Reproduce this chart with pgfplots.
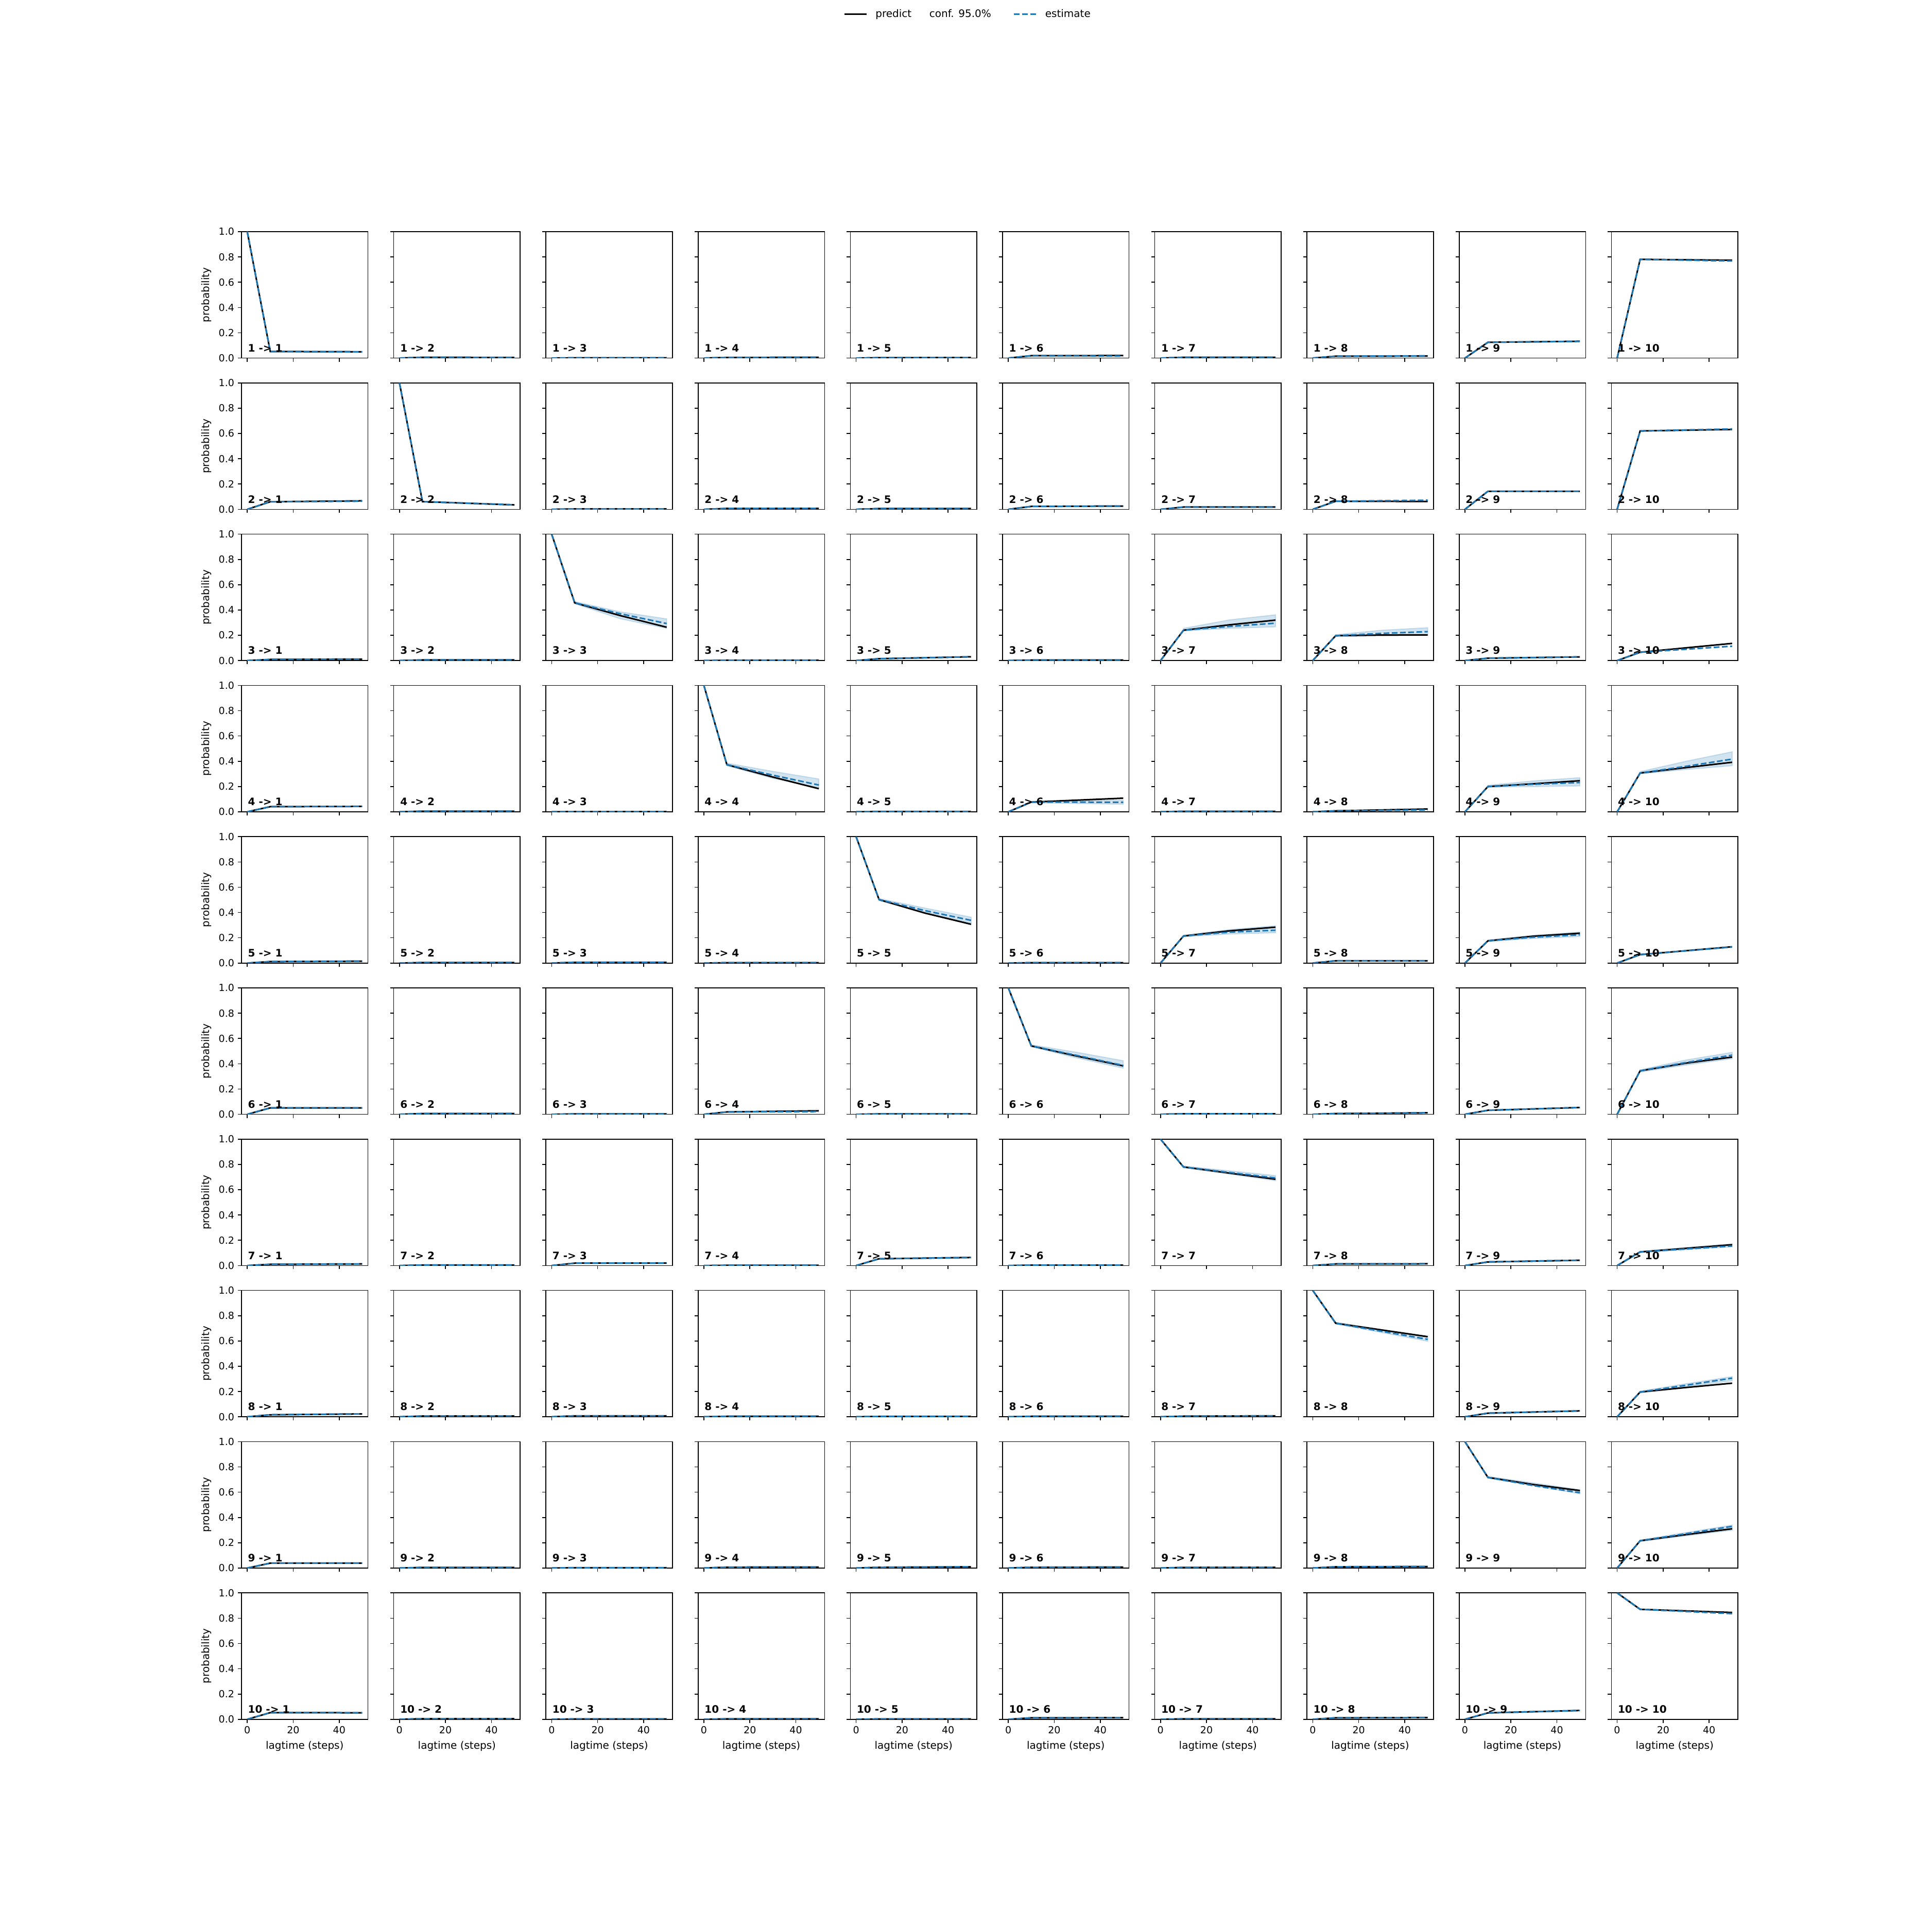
\documentclass[border=0pt]{standalone}
\usepackage{fontspec}
\setmainfont{DejaVu Sans}
\usepackage{pgfplots}
\pgfplotsset{compat=1.18}
\usepgfplotslibrary{groupplots}
\definecolor{c0}{HTML}{1F77B4}

\pgfplotsset{
  predict/.style={black, line width=1.5pt, forget plot},
  estimate/.style={c0, line width=1.5pt, dash pattern=on 5.55pt off 2.4pt, forget plot},
  band/.style={fill=c0, fill opacity=0.2, draw=c0, draw opacity=0.2, line width=1pt, forget plot},
}
\tikzset{lbl/.style={anchor=base west, inner sep=0pt, font=\fontsize{10}{12}\selectfont\bfseries}}

% one panel: label, predict, estimate, optional band
\newcommand{\panel}[4]{%
  \nextgroupplot
  #4
  \addplot[predict] coordinates {#2};
  \addplot[estimate] coordinates {#3};
  \node[lbl] at (rel axis cs:0.05,0.05) {#1};
}
\newcommand{\band}[1]{\addplot[band] coordinates {#1};}
% off-diagonal panel where both curves nearly agree
\newcommand{\fp}[3]{\panel{#1}{(0,0)(10,#2)(50,#3)}{(0,0)(10,#2)(50,#3)}{}}

\begin{document}
\begin{tikzpicture}
\begin{groupplot}[
  group style={group size=10 by 10, horizontal sep=25pt, vertical sep=24.1pt,
    xticklabels at=edge bottom, yticklabels at=edge left,
    xlabels at=edge bottom, ylabels at=edge left},
  scale only axis, width=122.8pt, height=122.8pt,
  xmin=-2.5, xmax=52.5, ymin=0, ymax=1,
  xtick={0,20,40}, ytick={0,0.2,0.4,0.6,0.8,1},
  tick pos=left, tick align=outside,
  major tick length=3.5pt,
  every tick/.style={black, line width=0.8pt},
  axis line style={line width=0.8pt},
  /pgf/number format/assume math mode=true,
  ticklabel style={font=\fontsize{9.5}{11}\selectfont},
  yticklabel style={/pgf/number format/.cd, fixed, fixed zerofill, precision=1},
  label style={font=\fontsize{10}{12}\selectfont},
  xlabel={lagtime (steps)}, ylabel={probability},
  legend columns=3,
  legend image code/.code={\draw[#1] (0pt,0pt) -- (21.5pt,0pt);},
  legend style={draw=none, fill=none, font=\fontsize{10}{12}\selectfont,
    nodes={inner sep=0pt},
    at={(rel axis cs:4.735,2.722)}, anchor=west,
    /tikz/column 1/.style={column sep=8pt},
    /tikz/column 2/.style={column sep=17.4pt},
    /tikz/column 3/.style={column sep=0pt},
    /tikz/column 4/.style={column sep=21.5pt},
    /tikz/column 5/.style={column sep=8pt}},
]
% row 1
\panel{1 -> 1}{(0,1)(10,0.052)(50,0.050)}{(0,1)(10,0.052)(50,0.049)}{}
\addlegendimage{black, line width=1.5pt}\addlegendentry{predict}
\addlegendimage{empty legend}\addlegendentry{conf. 95.0\%}
\addlegendimage{c0, line width=1.5pt, dash pattern=on 5.55pt off 2.4pt}\addlegendentry{estimate}
\fp{1 -> 2}{0.006}{0.005}
\fp{1 -> 3}{0.002}{0.002}
\fp{1 -> 4}{0.005}{0.006}
\fp{1 -> 5}{0.003}{0.004}
\panel{1 -> 6}{(0,0)(10,0.019)(50,0.020)}{(0,0)(10,0.019)(50,0.017)}{}
\fp{1 -> 7}{0.006}{0.006}
\panel{1 -> 8}{(0,0)(10,0.015)(50,0.016)}{(0,0)(10,0.015)(50,0.018)}{}
\panel{1 -> 9}{(0,0)(10,0.125)(50,0.133)}{(0,0)(10,0.125)(50,0.132)}{}
\panel{1 -> 10}{(0,0)(10,0.781)(50,0.774)}{(0,0)(10,0.781)(50,0.768)}{}
% row 2
\panel{2 -> 1}{(0,0)(10,0.060)(50,0.067)}{(0,0)(10,0.060)(50,0.064)}{}
\panel{2 -> 2}{(0,1)(10,0.061)(50,0.035)}{(0,1)(10,0.061)(50,0.036)}{}
\fp{2 -> 3}{0.003}{0.003}
\fp{2 -> 4}{0.007}{0.007}
\fp{2 -> 5}{0.006}{0.006}
\fp{2 -> 6}{0.023}{0.026}
\fp{2 -> 7}{0.018}{0.018}
\panel{2 -> 8}{(0,0)(10,0.064)(50,0.062)}{(0,0)(10,0.064)(50,0.072)}{}
\fp{2 -> 9}{0.143}{0.143}
\panel{2 -> 10}{(0,0)(10,0.620)(50,0.632)}{(0,0)(10,0.620)(50,0.636)}{}
% row 3
\fp{3 -> 1}{0.009}{0.012}
\fp{3 -> 2}{0.005}{0.005}
\panel{3 -> 3}{(0,1)(10,0.457)(30,0.355)(50,0.264)}{(0,1)(10,0.457)(30,0.370)(50,0.293)}
  {\band{(10,0.450)(30,0.330)(50,0.255)(50,0.330)(30,0.385)(10,0.467)(10,0.450)}}
\fp{3 -> 4}{0.002}{0.002}
\fp{3 -> 5}{0.015}{0.030}
\fp{3 -> 6}{0.004}{0.004}
\panel{3 -> 7}{(0,0)(10,0.240)(30,0.283)(50,0.320)}{(0,0)(10,0.240)(30,0.270)(50,0.296)}
  {\band{(10,0.235)(30,0.255)(50,0.267)(50,0.362)(30,0.322)(10,0.255)(10,0.235)}}
\panel{3 -> 8}{(0,0)(10,0.197)(30,0.202)(50,0.203)}{(0,0)(10,0.197)(30,0.215)(50,0.229)}
  {\band{(10,0.190)(30,0.197)(50,0.200)(50,0.260)(30,0.240)(10,0.205)(10,0.190)}}
\fp{3 -> 9}{0.019}{0.029}
\panel{3 -> 10}{(0,0)(10,0.066)(50,0.136)}{(0,0)(10,0.066)(50,0.114)}{}
% row 4
\fp{4 -> 1}{0.041}{0.043}
\fp{4 -> 2}{0.005}{0.005}
\fp{4 -> 3}{0.002}{0.002}
\panel{4 -> 4}{(0,1)(10,0.373)(30,0.275)(50,0.183)}{(0,1)(10,0.373)(30,0.290)(50,0.212)}
  {\band{(10,0.365)(30,0.265)(50,0.190)(50,0.260)(30,0.320)(10,0.385)(10,0.365)}}
\fp{4 -> 5}{0.003}{0.003}
\panel{4 -> 6}{(0,0)(10,0.077)(50,0.108)}{(0,0)(10,0.077)(50,0.076)}
  {\band{(10,0.072)(50,0.060)(50,0.092)(10,0.082)(10,0.072)}}
\fp{4 -> 7}{0.004}{0.004}
\panel{4 -> 8}{(0,0)(10,0.008)(50,0.022)}{(0,0)(10,0.008)(50,0.015)}{}
\panel{4 -> 9}{(0,0)(10,0.200)(30,0.222)(50,0.246)}{(0,0)(10,0.200)(30,0.218)(50,0.232)}
  {\band{(10,0.195)(30,0.200)(50,0.205)(50,0.270)(30,0.245)(10,0.210)(10,0.195)}}
\panel{4 -> 10}{(0,0)(10,0.307)(30,0.350)(50,0.392)}{(0,0)(10,0.307)(30,0.360)(50,0.417)}
  {\band{(10,0.300)(30,0.335)(50,0.365)(50,0.475)(30,0.400)(10,0.318)(10,0.300)}}
% row 5
\fp{5 -> 1}{0.012}{0.015}
\fp{5 -> 2}{0.004}{0.004}
\fp{5 -> 3}{0.006}{0.006}
\fp{5 -> 4}{0.003}{0.003}
\panel{5 -> 5}{(0,1)(10,0.502)(30,0.395)(50,0.307)}{(0,1)(10,0.502)(30,0.415)(50,0.338)}
  {\band{(10,0.495)(30,0.400)(50,0.315)(50,0.363)(30,0.435)(10,0.510)(10,0.495)}}
\fp{5 -> 6}{0.003}{0.003}
\panel{5 -> 7}{(0,0)(10,0.214)(30,0.255)(50,0.284)}{(0,0)(10,0.214)(30,0.245)(50,0.260)}
  {\band{(10,0.208)(30,0.230)(50,0.240)(50,0.295)(30,0.265)(10,0.220)(10,0.208)}}
\fp{5 -> 8}{0.018}{0.018}
\panel{5 -> 9}{(0,0)(10,0.176)(30,0.213)(50,0.236)}{(0,0)(10,0.176)(30,0.205)(50,0.224)}
  {\band{(10,0.170)(30,0.195)(50,0.210)(50,0.245)(30,0.220)(10,0.182)(10,0.170)}}
\panel{5 -> 10}{(0,0)(10,0.067)(50,0.129)}{(0,0)(10,0.067)(50,0.127)}{}
% row 6
\fp{6 -> 1}{0.051}{0.051}
\fp{6 -> 2}{0.006}{0.006}
\fp{6 -> 3}{0.003}{0.003}
\panel{6 -> 4}{(0,0)(10,0.019)(50,0.028)}{(0,0)(10,0.019)(50,0.022)}{}
\fp{6 -> 5}{0.003}{0.003}
\panel{6 -> 6}{(0,1)(10,0.541)(30,0.460)(50,0.383)}{(0,1)(10,0.541)(30,0.465)(50,0.387)}
  {\band{(10,0.535)(30,0.445)(50,0.365)(50,0.424)(30,0.490)(10,0.550)(10,0.535)}}
\fp{6 -> 7}{0.004}{0.004}
\fp{6 -> 8}{0.006}{0.012}
\fp{6 -> 9}{0.032}{0.054}
\panel{6 -> 10}{(0,0)(10,0.344)(30,0.405)(50,0.453)}{(0,0)(10,0.344)(30,0.410)(50,0.468)}
  {\band{(10,0.335)(30,0.390)(50,0.440)(50,0.490)(30,0.430)(10,0.352)(10,0.335)}}
% row 7
\fp{7 -> 1}{0.010}{0.013}
\fp{7 -> 2}{0.004}{0.004}
\fp{7 -> 3}{0.019}{0.020}
\fp{7 -> 4}{0.002}{0.002}
\fp{7 -> 5}{0.054}{0.064}
\fp{7 -> 6}{0.003}{0.003}
\panel{7 -> 7}{(0,1)(10,0.780)(50,0.683)}{(0,1)(10,0.780)(50,0.693)}
  {\band{(10,0.775)(50,0.672)(50,0.712)(10,0.787)(10,0.775)}}
\fp{7 -> 8}{0.013}{0.014}
\fp{7 -> 9}{0.029}{0.042}
\panel{7 -> 10}{(0,0)(10,0.108)(50,0.165)}{(0,0)(10,0.108)(50,0.155)}
  {\band{(10,0.103)(50,0.148)(50,0.172)(10,0.113)(10,0.103)}}
% row 8
\fp{8 -> 1}{0.016}{0.023}
\fp{8 -> 2}{0.006}{0.006}
\fp{8 -> 3}{0.008}{0.008}
\fp{8 -> 4}{0.004}{0.004}
\fp{8 -> 5}{0.003}{0.003}
\fp{8 -> 6}{0.004}{0.004}
\fp{8 -> 7}{0.005}{0.008}
\panel{8 -> 8}{(0,1)(10,0.740)(50,0.634)}{(0,1)(10,0.740)(50,0.613)}
  {\band{(10,0.735)(50,0.598)(50,0.632)(10,0.748)(10,0.735)}}
\fp{8 -> 9}{0.029}{0.047}
\panel{8 -> 10}{(0,0)(10,0.196)(30,0.232)(50,0.266)}{(0,0)(10,0.196)(30,0.250)(50,0.306)}
  {\band{(10,0.190)(30,0.240)(50,0.285)(50,0.318)(30,0.262)(10,0.203)(10,0.190)}}
% row 9
\fp{9 -> 1}{0.039}{0.039}
\fp{9 -> 2}{0.005}{0.005}
\fp{9 -> 3}{0.003}{0.003}
\fp{9 -> 4}{0.007}{0.008}
\fp{9 -> 5}{0.006}{0.010}
\fp{9 -> 6}{0.006}{0.008}
\fp{9 -> 7}{0.005}{0.006}
\fp{9 -> 8}{0.010}{0.012}
\panel{9 -> 9}{(0,1)(10,0.717)(30,0.660)(50,0.613)}{(0,1)(10,0.717)(30,0.652)(50,0.596)}
  {\band{(10,0.712)(50,0.588)(50,0.620)(10,0.725)(10,0.712)}}
\panel{9 -> 10}{(0,0)(10,0.216)(30,0.265)(50,0.311)}{(0,0)(10,0.216)(30,0.272)(50,0.330)}
  {\band{(10,0.210)(50,0.300)(50,0.340)(10,0.222)(10,0.210)}}
% row 10
\fp{10 -> 1}{0.053}{0.052}
\fp{10 -> 2}{0.005}{0.005}
\fp{10 -> 3}{0.003}{0.003}
\fp{10 -> 4}{0.004}{0.004}
\fp{10 -> 5}{0.003}{0.003}
\fp{10 -> 6}{0.012}{0.013}
\fp{10 -> 7}{0.004}{0.004}
\fp{10 -> 8}{0.012}{0.014}
\fp{10 -> 9}{0.051}{0.070}
\panel{10 -> 10}{(0,1)(10,0.870)(50,0.845)}{(0,1)(10,0.870)(50,0.836)}{}
\end{groupplot}
\pgfresetboundingbox
\path[use as bounding box] ([shift={(-234.5pt,225pt)}]group c1r1.north west)
  rectangle ([shift={(1641pt,-1650.5pt)}]group c1r1.north west);
\end{tikzpicture}
\end{document}
